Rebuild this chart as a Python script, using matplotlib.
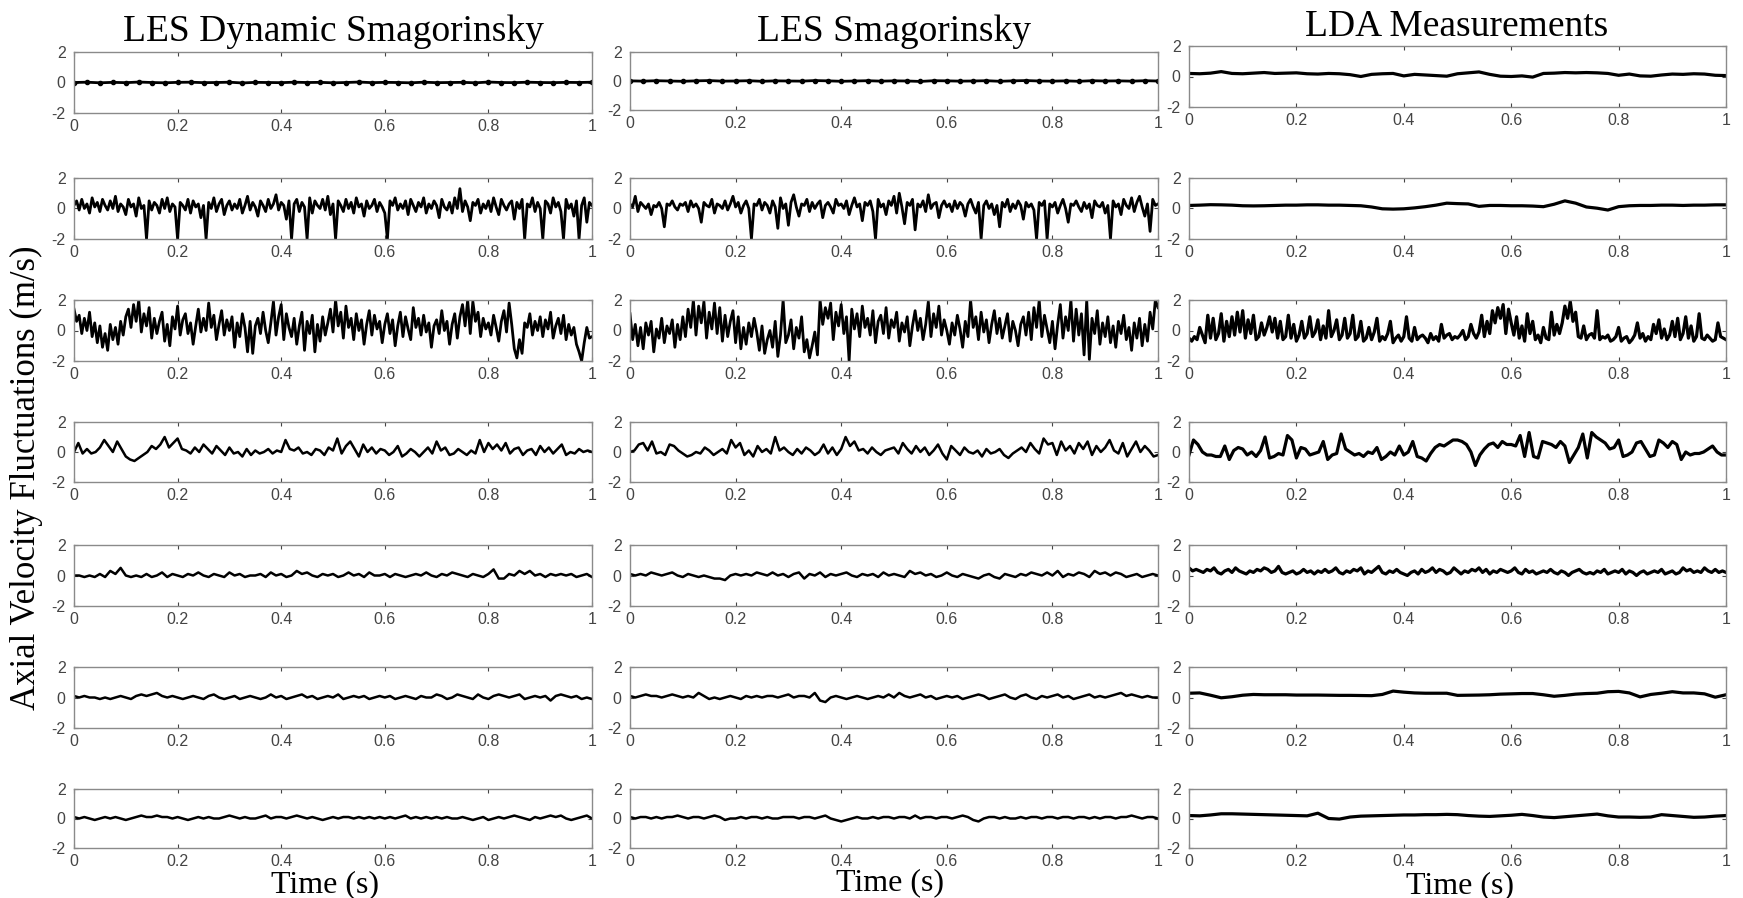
import numpy as np
import matplotlib.pyplot as plt

# axial velocity fluctuations
# row 1 and smooth LDA rows in hundredths of m/s, the rest in tenths of m/s

dyn_1 = [0, 2, -2, 1, -1, 3, 0, -2, 1, 2, -1, 0, 2, -3, 1, 0, -1, 2, 0, 1, -2,
         0, 3, -1, 1, 0, -2, 2, -1, 0, 1, -2, 3, 0, -1, 2, 0, -1, 1, 0, 2]
smag_1 = [1, -1, 2, 0, -2, 1, 3, -1, 0, 2, -2, 1, 0, -1, 3, 1, -2, 0, 2, -1, 1,
          0, -3, 2, 1, -1, 0, 2, -2, 1, 3, 0, -1, 1, -2, 2, 0, 1, -1, 2, 0]
lda_1 = [20, 18, 22, 32, 20, 18, 22, 26, 20, 22, 24, 18, 16, 20, 18, 12, 0,
         14, 18, 20, 4, 14, 10, 6, 2, 18, 24, 30, 14, 2, 0, 4, -4, 20, 22, 26,
         24, 26, 24, 20, 8, 16, 4, 2, 10, 16, 14, 18, 16, 8, 6]

dyn_2 = [2, 5, -1, 6, 0, 3, -3, 7, 1, 4, -2, 6, 2, -1, 5, 0, 8, -2, 3, 1,
         -4, 6, 1, 3, -5, 7, 0, 2, -20, 5, -1, 4, 2, -3, 6, 0, 7, -2, 3, 1,
         -20, 4, 2, -1, 6, -3, 5, 1, 3, -6, 2, -20, 4, 0, 7, -2, 3, 6, -4, 2,
         5, -1, 3, 0, 6, -3, 2, 8, -1, 4, 1, -5, 5, 2, -2, 6, 0, 3, 9, -1,
         4, 2, -7, 5, -20, 3, 6, -2, 4, 1, -20, 7, -3, 5, 2, 0, 6, -1, 8, -4,
         3, -20, 5, 2, -2, 6, 0, 4, -3, 7, 1, 3, -5, 5, 0, 2, 6, -2, 4, 1,
         -3, -20, 5, 2, 7, -1, 3, 0, 5, -4, 6, 2, -2, 4, 1, 7, -3, 3, 0, 5,
         2, -6, 6, 1, -1, 4, -3, 7, 0, 13, -2, 5, 1, -8, 4, 2, 6, -3, 3, 0,
         5, -2, 7, 1, -4, 6, 2, -1, 3, 5, -7, 4, 0, 6, -20, 3, 1, 7, -2, 4,
         0, -20, 5, 3, -3, 7, 1, 4, -2, -20, 6, 0, 3, -5, 5, -20, 2, 7, -9, 4, 2]
smag_2 = [3, 1, 8, -2, 4, 2, 0, 3, -4, 2, 1, 4, 0, -12, 3, 2, 5, 1, -1, 3,
          2, 4, -2, 5, 1, 3, 0, -9, 4, 2, 1, 6, -3, 3, 2, 0, 5, -1, 3, 8,
          1, 4, -3, 2, 5, 0, -20, 3, 2, 6, -1, 4, 2, -3, 5, 1, -13, 7, 0, 3,
          -11, 4, 9, 1, -5, 3, 2, 6, -2, 4, 0, 3, 5, -6, 2, 4, 1, -3, 6, 2,
          3, 0, 5, -4, 2, 7, 1, 3, -8, 4, 2, 5, -2, -20, 6, 1, 3, -4, 5, 2,
          8, -3, 10, 1, -10, 4, 2, 6, -14, 3, 1, 5, -2, 9, 0, 3, 4, -6, 2, 5,
          1, 3, -2, 5, 0, 4, 2, -5, 3, 6, 1, -3, 4, -20, 2, 5, 0, 3, -4, 2,
          -12, 4, 1, 6, -2, 3, 0, 5, 2, -7, 4, 1, 3, -1, -20, 4, 2, 5, -20, 3,
          1, 4, -3, 2, 6, 0, -9, 3, 2, 5, 1, -2, 4, 0, 3, -6, 5, 2, 1, 4,
          -3, 2, -20, 5, 1, 3, -4, 6, 2, 0, 7, -2, 4, 8, 1, -5, 3, -15, 6, 2, 3]
lda_2 = [20, 22, 25, 24, 22, 18, 17, 18, 20, 22, 22, 24, 24, 22, 22, 20, 18,
         10, -2, -4, -2, 4, 12, 22, 35, 32, 30, 14, 20, 20, 18, 18, 16, 12, 28,
         50, 35, 10, 2, -10, 12, 18, 20, 20, 22, 22, 20, 22, 22, 24, 24]

dyn_3 = [14, 6, 10, -2, 8, 0, 12, -4, 5, -8, 3, -11, -2, -13, 4, -6, 2, -9, 6, -3,
         9, 14, 2, 17, 6, 20, -1, 11, 3, 15, -5, 8, -2, 6, 12, -7, 4, -10, 9, 1,
         16, -3, 7, 11, -2, 5, -9, 3, 14, -1, 8, 0, 18, 2, 10, -6, 4, 13, -3, 7,
         0, 9, -11, 5, -4, 11, 2, -14, 6, -15, 3, 8, -2, 12, 0, -8, 5, 19, -3, 9,
         17, -6, 11, 2, -4, 8, -9, 3, 12, -13, 6, -2, 10, -14, 4, -7, 9, -3, 5, 14,
         -1, 20, 3, 12, -5, 16, 2, 8, -6, 11, 0, 7, -9, 4, 13, -3, 10, 1, 6, -8,
         4, 11, -2, 7, -10, 3, 12, -4, 9, 1, -6, 15, 2, 8, -3, 10, -1, 5, -11, 3,
         7, -2, 13, 0, 6, -9, 4, 11, -5, 9, 17, 3, 20, -2, 19, 6, 12, -4, 8, 1,
         5, -3, 10, 2, -7, 6, 13, -1, 18, 4, -12, -18, -6, -15, 5, 2, 11, -3, 6, 0,
         9, -4, 7, 1, 12, -5, 3, 8, -2, 10, -6, 4, -3, 2, -9, -14, -20, -8, 2, -5, -4]
smag_3 = [11, -6, 4, -10, 2, -12, 5, -3, 6, -14, 1, -5, 8, -8, 3, -2, 7, -11, 4, -6,
          9, -4, 14, 2, 20, -3, 16, 5, 19, -5, 12, 1, 18, -2, 15, -7, 10, -4, 6, 13,
          -8, 9, -12, 2, -9, 5, -4, 8, -1, -13, 3, -15, -6, 0, -11, 6, -17, -3, 20, -8,
          -3, 7, -12, 2, -5, 9, -14, -6, -18, -10, -1, -16, 20, 4, 15, 8, 18, -6, 12, 3,
          17, -2, 9, -20, 14, 1, 11, -4, 16, 2, 8, -3, 13, -8, 6, 10, -2, 15, -5, 7,
          2, 12, -7, 5, -1, 9, -10, 3, 13, 0, 8, -6, 4, 19, -4, 11, 2, 16, -3, 7,
          0, -9, 5, -3, 10, 1, -11, 6, -4, 20, 2, 9, -6, 12, -1, 7, -8, 4, 13, -2,
          8, -5, 3, 11, -7, 6, 0, -10, 4, 9, -3, 12, -6, 15, 2, 20, -4, 10, 1, -8,
          6, -12, 4, 17, -5, 9, 0, 20, -7, 14, -3, 11, -16, 20, -19, 8, -2, 13, -9, 5,
          -4, 9, -8, 3, -11, 6, -2, 10, -6, 2, -13, 5, -5, 8, -10, 4, -7, 12, 1, 20, 15]
lda_3 = [-5, -7, -4, -6, 2, -3, -8, 10, -5, 8, -6, -2, 11, -7, 6, -4, 9, -3, 12, -1,
         13, -5, 7, -2, 10, -6, -4, 5, -3, 2, 9, -1, 8, -5, 6, -6, -4, 10, -5, 4,
         -7, -3, 6, -5, -2, 9, -4, -1, 7, -6, 3, -5, 13, -4, 0, 7, -6, -3, 8, -5,
         -2, 10, -6, -4, 6, -7, -5, 2, -6, -1, 8, -7, -4, -6, -2, 6, -8, -5, -3, -7,
         -4, 9, -5, -7, 2, -6, -4, -3, -5, -8, -2, -6, -4, -7, 4, -5, -3, -2, -6, -4,
         -5, -3, 0, -6, -4, 4, -2, -5, -1, 10, -4, 6, -2, 13, 5, 15, 8, 17, -2, 14,
         5, -3, 9, -5, 3, -7, 11, -2, 6, -6, -3, -8, 2, -5, -6, 12, -3, 4, -2, 5,
         16, 8, 19, 6, 12, -4, -5, 3, -6, -3, -2, -5, 13, -6, -4, -5, -3, -7, -6, -4,
         2, -7, -5, -4, -8, -6, -3, 5, -5, -2, -7, -4, -6, 4, -2, 7, -5, 1, -6, -3,
         6, -4, 8, -6, -2, 9, -5, 3, -7, -4, 11, -5, -6, -3, -5, -7, -6, 5, -4, -5, -6]

dyn_4 = [0, 6, -1, 2, -1, 0, 3, 8, 4, 0, 7, 2, -3, -5, -6, -4, -2, 0, 4, 2,
         5, 10, 3, 6, 9, 2, 1, -1, 3, 0, 5, 2, -1, 4, 1, -2, 3, -1, 0, -3,
         2, -2, 1, -1, 0, 2, -1, 1, 0, 8, 2, 1, 3, -1, 0, -2, 2, 1, -2, 3,
         1, 9, -1, 4, 7, 2, -3, 5, 0, 3, -1, 2, 1, -2, 0, 4, -3, -1, 2, 0,
         -3, 0, 3, -1, 7, 1, 3, -2, -1, 2, 0, -2, 1, -1, 8, 0, 6, 2, 5, 1,
         6, -1, 2, 3, -2, 1, 2, -2, 4, 0, 3, -1, 2, 5, -2, 0, -1, 2, 0, 1, 0]
smag_4 = [0, 1, 5, 6, 1, 7, -1, 0, -2, 5, 4, 1, -1, -3, -2, 0, -1, 3, 1, -2,
          0, 2, -1, 8, 3, 6, -2, 1, -3, 4, 0, 2, -1, 10, 1, 3, 0, -2, 2, -1,
          3, 1, -2, 0, 5, -1, 3, -2, 2, 10, 4, 7, 1, 2, -1, 3, 0, -2, 1, 2,
          3, -1, 6, 2, -1, 4, 0, 3, -2, 1, 5, -1, -5, 4, 1, -2, 3, 0, -1, 1,
          -3, 2, -1, 0, 2, -2, -4, -1, 1, 3, 0, 6, 2, -1, 9, 5, 6, -2, 7, 1,
          4, -1, 6, 2, 7, -2, 4, 0, 3, 8, 1, -1, 6, -3, 2, 7, 0, 4, 1, -3, -2]
lda_4 = [-2, 8, 5, 0, -2, -2, -3, -3, 4, -5, 1, 3, 2, -2, 0, -3, 1, 10, -4, -3,
         -1, -2, 11, 8, -4, 3, 2, -2, -1, 0, 7, -5, -2, -1, 12, 2, 0, -2, -1, -3,
         0, -1, 3, -5, -3, 0, -2, 4, -2, 0, 7, -3, -4, -6, -1, 3, 5, 4, 6, 8,
         8, 7, 5, 0, -9, -2, 2, 5, 6, 3, 7, 5, 5, 4, 11, -3, 13, -3, -4, 7,
         6, 5, 3, 7, 4, -7, -2, 3, 12, -4, 13, 10, 8, 6, 2, 3, 8, -3, -2, 0,
         6, 7, 2, -3, -2, 8, 6, 3, 7, 5, -5, 0, -2, -1, -1, 0, 2, 4, 0, -2, -2]

dyn_5 = [0, 0, -1, 0, -1, 1, -1, 3, 1, 5, 0, -1, 0, -1, 1, -1, 0, 2, -1, 1,
         0, -1, 1, 0, 2, 0, -1, 1, 0, -1, 2, 0, 1, -1, 0, 0, 1, -1, 2, 0,
         1, -1, 0, 3, 1, 2, 0, -1, 1, 0, 1, -1, 0, 2, 0, 1, -1, 2, 0, 0,
         1, -1, 1, 0, -1, 0, 1, 0, 2, 0, -1, 1, 0, 2, 1, 0, -1, 1, 0, -1,
         1, 4, -2, -2, 1, 0, 3, 1, 3, 0, 1, -1, 1, 0, 1, 0, 1, -1, 0, 1, -1]
smag_5 = [1, 0, 1, 0, 2, 1, 0, 1, 2, 0, -1, 1, 0, -1, 0, -1, -2, -2, -3, 0,
          1, 0, 1, 0, 2, 1, 0, 2, 0, 1, -1, 1, 2, -2, 1, 0, 2, -1, 1, 0,
          1, 2, 0, -1, 1, 0, 1, -1, 2, 0, 1, 0, -1, 3, 1, 2, 0, 1, -1, 0,
          2, 0, -1, 1, 0, -1, -2, 0, 1, -1, -2, 1, 0, -1, 1, 0, 2, 1, 0, 2,
          0, 3, -1, 1, 0, 2, 1, -1, 3, 1, 2, 0, 2, 1, -1, 0, 1, -1, 0, 1, 0]
lda_5 = [5, 3, 4, 3, 2, 4, 3, 5, 2, 1, 3, 4, 2, 5, 3, 2, 1, 3, 2, 4,
         3, 5, 4, 2, 3, 6, 2, 1, 2, 3, 1, 2, 4, 2, 3, 1, 3, 2, 4, 2,
         3, 5, 2, 1, 3, 2, 4, 3, 5, 1, 3, 2, 4, 6, 2, 1, 3, 2, 4, 2,
         1, 0, 2, 3, 1, 4, 2, 3, 5, 2, 4, 3, 1, 2, 5, 3, 1, 3, 2, 4,
         3, 5, 2, 4, 1, 3, 2, 4, 3, 2, 3, 5, 2, 1, 4, 2, 3, 1, 2, 3,
         2, 4, 2, 1, 3, 2, 0, 2, 3, 4, 2, 1, 2, 1, 3, 2, 4, 1, 2, 3,
         2, 4, 1, 3, 2, 0, 2, 3, 1, 2, 3, 2, 4, 1, 2, 3, 1, 2, 5, 3,
         4, 2, 3, 2, 5, 3, 2, 4, 2, 3, 2]

dyn_6 = [1, 0, 1, 0, 0, -1, 0, -1, 0, 1, 0, -1, 1, 2, 1, 2, 3, 1, 0, 1,
         0, -1, 0, 1, 0, -1, 1, 2, 0, -1, 0, 1, -1, 0, 1, 0, -1, 0, 2, 0,
         1, -1, 0, 1, 2, 0, 1, -1, 0, 1, 0, 2, -1, 0, 1, 0, 1, -1, 0, 1,
         0, 1, -1, 0, 1, 0, -1, 1, 0, 0, 2, 1, -1, 0, 2, 1, 0, -1, 2, 0,
         -1, 1, 2, 1, 0, 1, 2, -1, 0, 1, 0, 1, -2, 1, 2, 1, 0, 1, -1, 0, -1]
smag_6 = [1, 0, 1, 2, 1, 1, 0, 1, 2, 1, 0, 1, 0, 3, 1, -1, 0, -1, 0, 1,
          0, -1, 1, 0, 1, 0, 1, 1, 0, 1, 2, 0, 1, 1, 0, 3, -2, -3, 0, 1,
          0, -1, 0, 1, 0, -1, 0, 1, 0, 2, 0, 3, 1, 0, 1, 2, 0, 1, -1, 0,
          1, 0, 1, -1, 0, 1, 2, 1, -1, 0, 1, 2, 0, -1, 1, 2, 0, -1, 1, 0,
          1, 2, 0, 1, -1, 0, 1, 2, 0, 1, 0, 1, 2, 3, 1, 2, 1, 0, 1, 0, 0]
lda_6 = [28, 30, 15, -2, 5, 15, 20, 18, 18, 18, 16, 16, 16, 15, 14, 14, 13,
         12, 20, 42, 35, 30, 28, 28, 28, 14, 15, 16, 18, 22, 24, 26, 26, 18,
         8, 14, 22, 26, 28, 38, 40, 30, 4, 20, 28, 38, 30, 30, 24, 2, 18]

dyn_7 = [1, 0, 1, 0, -1, 0, 1, 0, 1, 0, -1, 0, 1, 2, 1, 1, 2, 1, 1, 0,
         1, 0, -1, 0, 1, 0, 1, 0, 0, 1, 2, 1, 0, 1, 0, 0, 1, 2, 0, 1,
         1, 0, 1, 2, 1, 0, 1, 0, -1, 0, 1, 0, 1, 1, 0, 1, 0, 1, 0, 1,
         0, 1, 0, 1, 2, 0, 1, 0, 1, 0, 1, 0, 1, 0, 0, 1, 0, -1, 0, 1,
         -1, 0, 1, 0, 1, 2, 1, 0, -1, 1, 0, 1, 2, 1, 2, 0, -1, 0, 1, 2, 0]
smag_7 = [1, 0, 1, 1, 0, 1, 0, 1, 1, 2, 1, 0, 1, 1, 0, 1, 2, 1, -1, 0,
          0, 1, 0, 1, 1, 0, 1, 0, 0, 1, 1, 1, 0, 1, 1, 0, 1, 2, 0, -1,
          -2, -1, 0, 1, 0, 0, 1, 0, 1, 1, 0, 1, 1, 0, 2, 0, 1, 1, 0, 1,
          1, 0, 1, 2, 1, -1, -2, 0, 1, 1, 0, 1, 0, 0, 1, 0, 1, 1, 0, 1,
          1, 0, 1, 1, 0, 1, 1, 0, 1, 0, 1, 1, 0, 1, 1, 2, 1, 0, 1, 1, 0]
lda_7 = [20, 18, 24, 32, 32, 30, 28, 26, 24, 22, 20, 18, 36, 0, -4, 10, 16,
         18, 20, 22, 24, 24, 26, 26, 28, 26, 20, 16, 14, 18, 22, 28, 20, 10,
         6, 12, 18, 24, 30, 18, 10, 10, 8, 10, 26, 20, 14, 8, 10, 16, 20]

titles = ['LES Dynamic Smagorinsky', 'LES Smagorinsky', 'LDA Measurements']
xtick_vals = [0, 0.2, 0.4, 0.6, 0.8, 1]
xtick_labels = ['0', '0.2', '0.4', '0.6', '0.8', '1']
ytick_vals = [-2, 0, 2]

columns = [
    [(dyn_1, 100), (dyn_2, 10), (dyn_3, 10), (dyn_4, 10), (dyn_5, 10), (dyn_6, 10), (dyn_7, 10)],
    [(smag_1, 100), (smag_2, 10), (smag_3, 10), (smag_4, 10), (smag_5, 10), (smag_6, 10), (smag_7, 10)],
    [(lda_1, 100), (lda_2, 100), (lda_3, 10), (lda_4, 10), (lda_5, 10), (lda_6, 100), (lda_7, 100)],
]

W, H = 1743, 898
fig = plt.figure(figsize=(W / 100, H / 100), dpi=100)

# pixel boxes of the panels
col_x = [(74, 592), (630, 1158), (1189, 1726)]
row_y = [(52, 113), (178, 239), (300, 361), (422, 482), (545, 606), (667, 728), (789, 848)]
row1_y = [(52, 113), (52, 110), (46, 107)]

serif = ['Liberation Serif', 'DejaVu Serif']
sans = ['Liberation Sans', 'DejaVu Sans']

for c, col in enumerate(columns):
    x0, x1 = col_x[c]
    for r, (vals, scale) in enumerate(col):
        y0, y1 = row1_y[c] if r == 0 else row_y[r]
        ax = fig.add_axes([x0 / W, 1 - y1 / H, (x1 - x0) / W, (y1 - y0) / H])
        v = np.array(vals) / scale
        t = np.linspace(0, 1, len(v))
        if r == 0 and c < 2:
            ax.plot(t, v, color='k', lw=2, marker='o', ms=3)
        elif c == 2:
            ax.plot(t, v, color='k', lw=2.3)
        elif r in (1, 2):
            ax.plot(t, v, color='k', lw=2.0)
        else:
            ax.plot(t, v, color='k', lw=1.8)
        ax.set_xlim(0, 1)
        ax.set_ylim(-2, 2)
        ax.set_xticks(xtick_vals)
        ax.set_xticklabels(xtick_labels, family=sans)
        ax.set_yticks(ytick_vals)
        ax.set_yticklabels([str(y) for y in ytick_vals], family=sans)
        ax.tick_params(direction='in', top=True, right=True, length=3,
                       labelsize=11.5, colors='#444444')
        ax.tick_params(axis='x', pad=4)
        ax.tick_params(axis='y', pad=6)
        for s in ax.spines.values():
            s.set_color('#8a8a8a')
            s.set_linewidth(1)

title_pos = [(333, 41), (894, 41), (1457, 36)]
for (x, y), ttl in zip(title_pos, titles):
    fig.text(x / W, 1 - y / H, ttl, ha='center', va='baseline',
             family=serif, fontsize=27)

time_pos = [(325, 892), (890, 890), (1460, 893)]
for x, y in time_pos:
    fig.text(x / W, 1 - y / H, 'Time (s)', ha='center', va='baseline',
             family=serif, fontsize=23)

fig.text(26 / W, 1 - 478 / H, 'Axial Velocity Fluctuations (m/s)', rotation=90,
         ha='center', va='center', family=serif, fontsize=25)

fig.savefig('out.png', dpi=100)
